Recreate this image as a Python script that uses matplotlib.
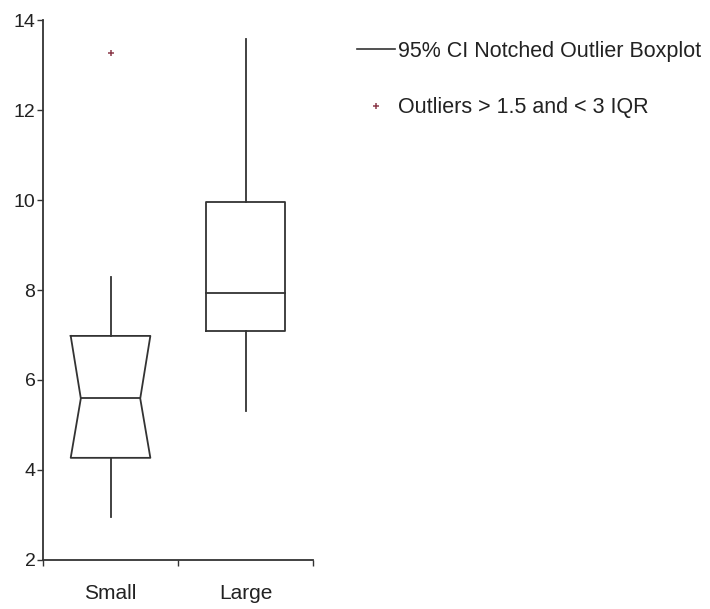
import matplotlib
matplotlib.use('Agg')
import matplotlib.pyplot as plt
from matplotlib.lines import Line2D

plt.rcParams['font.family'] = ['Liberation Sans', 'DejaVu Sans']

# box statistics
groups = ['Small', 'Large']
q1 = [4.27, 7.09]
med = [5.59, 7.93]
q3 = [6.98, 9.96]
whis_lo = [2.96, 5.30]
whis_hi = [8.30, 13.58]
notched = [True, False]
outliers = [[13.27], []]

positions = [0.5, 1.5]
box_w = 0.59
notch_w = 0.44
line_col = '#333333'
out_col = '#8b3a4a'

fig = plt.figure(figsize=(7.1, 6.09), dpi=100)
ax = fig.add_axes([0.0606, 0.0805, 0.3803, 0.8866])

for i, x in enumerate(positions):
    l, r = x - box_w / 2, x + box_w / 2
    if notched[i]:
        nl, nr = x - notch_w / 2, x + notch_w / 2
        xs = [l, r, nr, r, l, nl, l]
        ys = [q3[i], q3[i], med[i], q1[i], q1[i], med[i], q3[i]]
        ax.plot(xs, ys, color=line_col, lw=1.3)
        ax.plot([nl, nr], [med[i], med[i]], color=line_col, lw=1.3)
    else:
        ax.plot([l, r, r, l, l], [q1[i], q1[i], q3[i], q3[i], q1[i]],
                color=line_col, lw=1.3)
        ax.plot([l, r], [med[i], med[i]], color=line_col, lw=1.3)
    ax.plot([x, x], [q3[i], whis_hi[i]], color=line_col, lw=1.3)
    ax.plot([x, x], [whis_lo[i], q1[i]], color=line_col, lw=1.3)
    if outliers[i]:
        ax.plot([x] * len(outliers[i]), outliers[i], '+', color=out_col,
                ms=4, mew=1.1)

ax.set_xlim(0, 2)
ax.set_ylim(2, 14)
ax.set_yticks(range(2, 15, 2))
ax.set_xticks([0, 1, 2])
ax.set_xticklabels([])
ax.set_xticks(positions, minor=True)
ax.set_xticklabels(groups, minor=True)
ax.tick_params(axis='x', which='major', length=4, width=1, color=line_col)
ax.tick_params(axis='x', which='minor', length=0, pad=17, labelsize=15,
               labelcolor='#222222')
ax.tick_params(axis='y', length=4, width=1, color=line_col, labelsize=14,
               labelcolor='#222222', pad=1.5)
for s in ['top', 'right']:
    ax.spines[s].set_visible(False)
for s in ['left', 'bottom']:
    ax.spines[s].set_color(line_col)
    ax.spines[s].set_linewidth(1.3)

handles = [Line2D([], [], color=line_col, lw=1.2),
           Line2D([], [], ls='none', marker='+', color=out_col, ms=4, mew=1.1)]
labels = ['95% CI Notched Outlier Boxplot', 'Outliers > 1.5 and < 3 IQR']
fig.legend(handles, labels, loc='upper left', bbox_to_anchor=(0.503, 0.933),
           frameon=False, fontsize=15.5, handlelength=1.75, handletextpad=0.15,
           labelspacing=1.65, borderaxespad=0, borderpad=0,
           labelcolor='#222222')

fig.savefig('out.png', dpi=100)
